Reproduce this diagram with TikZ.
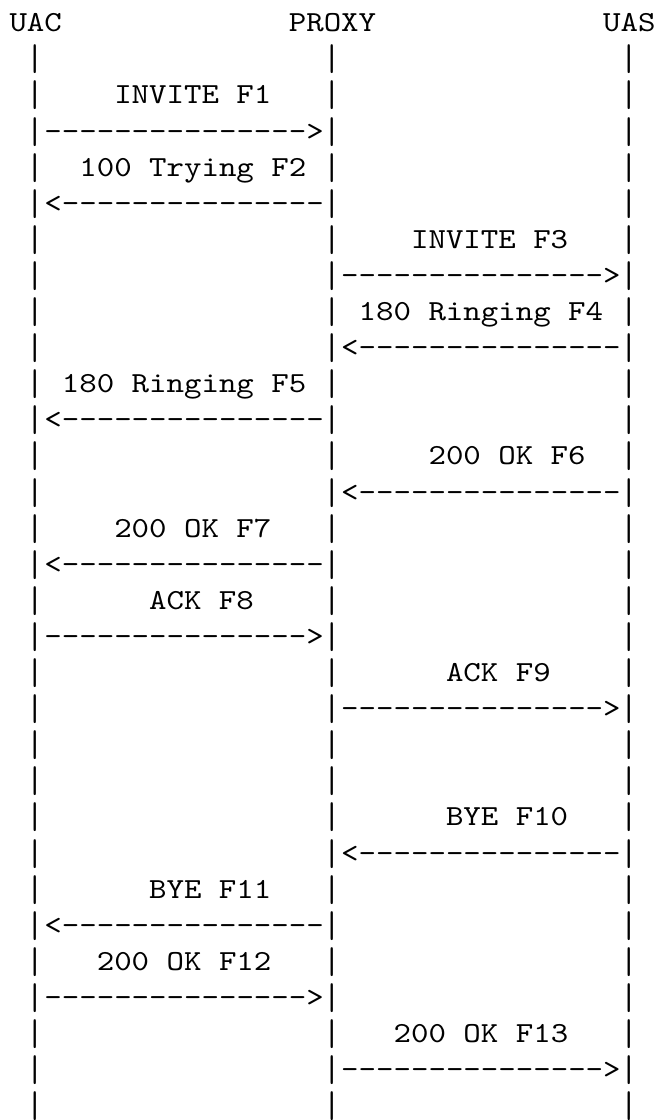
\documentclass[tikz,border=0pt]{standalone}
\usepackage{fontspec}
\usepackage{graphicx}
\setmonofont{lmmono10-regular.otf}[FakeStretch=1.143]
\newcommand\cw{17.46}
\newcommand\xo{9.5}
\newcommand\yo{31.7}
\newcommand\rs{36.1}
\newcommand\seqtxt[4]{\node[txt] (#1) at ({\xo+#2*\cw},{-(\yo+(#3-1)*\rs)}) {#4};}
\newcommand\rarr{--------------->}
\newcommand\larr{<---------------}
\newcommand\tallbar{\raisebox{-3pt}{\scalebox{1}[1.28]{|}}}
\begin{document}
\begin{tikzpicture}[x=1pt,y=1pt,
  txt/.style={anchor=base west, inner sep=0pt, outer sep=0pt, text=black,
              font=\ttfamily\fontsize{29.1}{36.1}\selectfont}]
\useasboundingbox (0,0) rectangle (655,-1120);
% header
\seqtxt{uac}{0}{1}{UAC}
\seqtxt{proxy}{16}{1}{PROXY}
\seqtxt{uas}{34}{1}{UAS}
% life lines
\foreach \r in {2,...,31}{
  \foreach \c/\n in {1/a,18/b,35/c}{
    \node[txt] (\n\r) at ({\xo+\c*\cw},{-(\yo+(\r-1)*\rs)}) {\tallbar};
  }
}
% messages
\seqtxt{m1}{6}{3}{INVITE F1}
\seqtxt{r4}{2}{4}{\rarr}
\seqtxt{m2}{4}{5}{100 Trying F2}
\seqtxt{r6}{2}{6}{\larr}
\seqtxt{m3}{23}{7}{INVITE F3}
\seqtxt{r8}{19}{8}{\rarr}
\seqtxt{m4}{20}{9}{180 Ringing F4}
\seqtxt{r10}{19}{10}{\larr}
\seqtxt{m5}{3}{11}{180 Ringing F5}
\seqtxt{r12}{2}{12}{\larr}
\seqtxt{m6}{24}{13}{200 OK F6}
\seqtxt{r14}{19}{14}{\larr}
\seqtxt{m7}{6}{15}{200 OK F7}
\seqtxt{r16}{2}{16}{\larr}
\seqtxt{m8}{8}{17}{ACK F8}
\seqtxt{r18}{2}{18}{\rarr}
\seqtxt{m9}{25}{19}{ACK F9}
\seqtxt{r20}{19}{20}{\rarr}
\seqtxt{m10}{25}{23}{BYE F10}
\seqtxt{r24}{19}{24}{\larr}
\seqtxt{m11}{8}{25}{BYE F11}
\seqtxt{r26}{2}{26}{\larr}
\seqtxt{m12}{5}{27}{200 OK F12}
\seqtxt{r28}{2}{28}{\rarr}
\seqtxt{m13}{22}{29}{200 OK F13}
\seqtxt{r30}{19}{30}{\rarr}
\end{tikzpicture}
\end{document}
